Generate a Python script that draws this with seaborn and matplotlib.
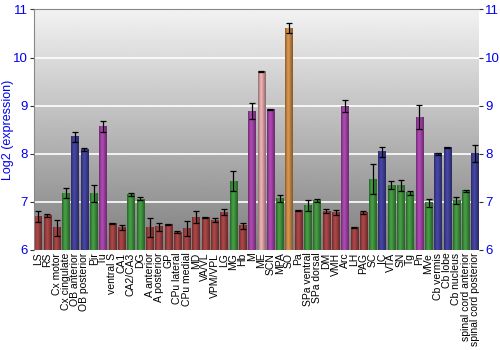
import numpy as np
import pandas as pd
import matplotlib
matplotlib.use("Agg")
import matplotlib.pyplot as plt
import matplotlib.colors as mcolors
import seaborn as sns

regions = ["LS", "RS", "Cx motor", "Cx cingulate", "OB anterior", "OB posterior", "Pir", "Tu",
           "ventral S", "CA1", "CA2/CA3", "DG", "A anterior", "A posterior", "GP", "CPu lateral",
           "CPu medial", "MD", "VA/VL", "VPM/VPL", "LG", "MG", "Hb", "M", "ME", "SCN", "MPA", "SO",
           "Pa", "SPa ventral", "SPa dorsal", "DM", "VMH", "Arc", "LH", "PAG", "SC", "IC", "VTA",
           "SN", "Tg", "Pn", "MVe", "Cb vermis", "Cb lobe", "Cb nucleus", "spinal cord anterior",
           "spinal cord posterior"]
expression = [6.69, 6.71, 6.46, 7.18, 8.35, 8.09, 7.17, 8.56,
              6.55, 6.47, 7.15, 7.06, 6.46, 6.48, 6.53, 6.37,
              6.44, 6.68, 6.67, 6.62, 6.79, 7.43, 6.50, 8.89, 9.71, 8.92, 7.07, 10.61,
              6.82, 6.92, 7.02, 6.81, 6.78, 8.99, 6.46, 6.78, 7.47, 8.04, 7.35,
              7.34, 7.19, 8.76, 6.98, 8.00, 8.13, 7.03, 7.23,
              8.01]
sem = [0.12, 0.03, 0.17, 0.11, 0.10, 0.03, 0.17, 0.11,
       0.01, 0.05, 0.03, 0.03, 0.20, 0.08, 0.01, 0.02,
       0.16, 0.12, 0.01, 0.05, 0.07, 0.21, 0.06, 0.17, 0.02, 0.01, 0.07, 0.10,
       0.01, 0.12, 0.03, 0.04, 0.05, 0.12, 0.01, 0.03, 0.31, 0.11, 0.08,
       0.12, 0.04, 0.25, 0.08, 0.02, 0.01, 0.08, 0.02,
       0.18]
group = ["r", "r", "r", "g", "b", "b", "g", "p",
         "r", "r", "g", "g", "r", "r", "r", "r",
         "r", "r", "r", "r", "r", "g", "r", "p", "k", "p", "g", "o",
         "r", "g", "g", "r", "r", "p", "r", "r", "g", "b", "g",
         "g", "g", "p", "g", "b", "b", "g", "g",
         "b"]
palette = {"r": "#b03232", "g": "#32a232", "b": "#3232a8", "p": "#b232b8",
           "k": "#e69aa0", "o": "#e08a32"}

df = pd.DataFrame({"region": regions, "expr": expression, "sem": sem, "group": group})

plt.rcParams["font.family"] = ["Liberation Sans", "DejaVu Sans"]

fig = plt.figure(figsize=(5, 3.5), dpi=100)
ax = fig.add_axes([0.068, 0.286, 0.89, 0.687])

# background gradient
bg = np.linspace(0.95, 0.50, 256).reshape(-1, 1)
ax.imshow(bg, cmap="gray", vmin=0, vmax=1, aspect="auto", extent=[0, 1, 0, 1],
          transform=ax.transAxes, zorder=0, interpolation="bilinear")

sns.barplot(data=df, x="region", y="expr", hue="group", palette=palette, dodge=False,
            width=0.78, legend=False, ax=ax, zorder=2, errorbar=None)

YMIN, YMAX = 6, 11

# bar gradient shading (cylinder look), limited to the visible range
shade = np.array([0.72, 0.85, 1.0, 1.08, 1.05, 0.95, 0.85, 0.75, 0.68])
for patch in list(ax.patches):
    x0, y0 = patch.get_x(), patch.get_y()
    w, h = patch.get_width(), patch.get_height()
    if w == 0 or np.isnan(h):
        continue
    top = y0 + h
    base = np.array(mcolors.to_rgb(patch.get_facecolor()))
    img = np.clip(base[None, :] * shade[:, None], 0, 1)[None, :, :]
    ax.imshow(img, aspect="auto", extent=[x0, x0 + w, YMIN, top],
              zorder=2.5, interpolation="bilinear")

ax.errorbar(x=np.arange(len(regions)), y=df["expr"], yerr=df["sem"], fmt="none",
            ecolor="black", elinewidth=0.9, capsize=2, capthick=0.9, zorder=4)

ax.set_xlim(-0.42, len(regions) - 0.58)
ax.set_ylim(YMIN, YMAX)
ax.set_yticks([6, 7, 8, 9, 10, 11])
for t in [7, 8, 9, 10]:
    ax.axhline(t, color="white", lw=1.2, zorder=1)

ax.tick_params(axis="y", colors="#333333", labelcolor="#0000ee", labelsize=9.5,
               length=3, pad=1.5, left=True, right=True, labelleft=True, labelright=True)
ax.tick_params(axis="x", length=0, labelsize=7.5, labelcolor="black", pad=2)
ax.set_xticks(range(len(regions)))
ax.set_xticklabels(regions, rotation=90)
ax.set_xlabel("")
ax.set_ylabel("Log2 (expression)", color="#0000ee", fontsize=9)
ax.yaxis.set_label_coords(-0.045, 0.5)
for s in ["left", "top"]:
    ax.spines[s].set_color("#888888")
ax.spines["right"].set_visible(False)
ax.spines["bottom"].set_visible(False)

fig.savefig("out.png", dpi=100, facecolor="white")
